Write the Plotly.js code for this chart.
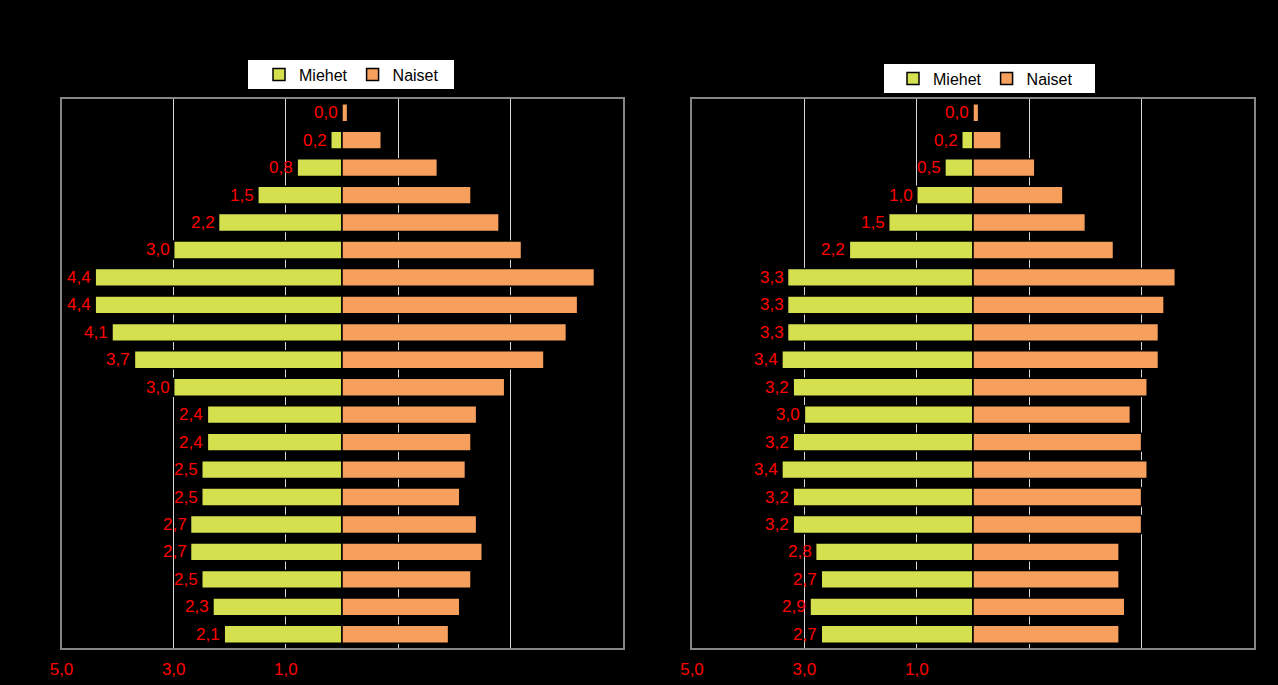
<!DOCTYPE html>
<html>
<head>
<meta charset="utf-8">
<script src="https://cdn.plot.ly/plotly-3.0.1.min.js"></script>
<style>html,body{margin:0;padding:0;background:#000;}#chart{width:1278px;height:685px;}</style>
</head>
<body>
<div id="chart"></div>
<script>
// Age groups, oldest at top
const ageGroups = ['95+','90-94','85-89','80-84','75-79','70-74','65-69','60-64','55-59','50-54',
                   '45-49','40-44','35-39','30-34','25-29','20-24','15-19','10-14','5-9','0-4'];
// Left pyramid (%)
const menLeft   = [0.0,0.2,0.8,1.5,2.2,3.0,4.4,4.4,4.1,3.7,3.0,2.4,2.4,2.5,2.5,2.7,2.7,2.5,2.3,2.1];
const womenLeft = [0.1,0.7,1.7,2.3,2.8,3.2,4.5,4.2,4.0,3.6,2.9,2.4,2.3,2.2,2.1,2.4,2.5,2.3,2.1,1.9];
// Right pyramid (%)
const menRight   = [0.0,0.2,0.5,1.0,1.5,2.2,3.3,3.3,3.3,3.4,3.2,3.0,3.2,3.4,3.2,3.2,2.8,2.7,2.9,2.7];
const womenRight = [0.1,0.5,1.1,1.6,2.0,2.5,3.6,3.4,3.3,3.3,3.1,2.8,3.0,3.1,3.0,3.0,2.6,2.6,2.7,2.6];
// Axis ticks
const tickVals = [-5,-3,-1,1,3,5];
const tickText = ['5,0','3,0','1,0','','',''];
const seriesNames = ['Miehet','Naiset'];
const colMen = '#d5e04f', colWomen = '#f79f5d';
const FONT = 'Liberation Sans, Arial, sans-serif';

const fmt = v => v.toFixed(1).replace('.', ',');
const neg = a => a.map(v => -v);

function pyramid(men, women, xa, ya, leg) {
  return [
    {type:'bar', orientation:'h', name:seriesNames[0], x:neg(men), y:ageGroups, xaxis:xa, yaxis:ya, legend:leg,
     marker:{color:colMen, line:{color:'#000', width:1.5}}, hoverinfo:'skip'},
    {type:'bar', orientation:'h', name:seriesNames[1], x:women, y:ageGroups, xaxis:xa, yaxis:ya, legend:leg,
     marker:{color:colWomen, line:{color:'#000', width:1.5}}, hoverinfo:'skip'}
  ];
}
function labels(men, xa, ya) {
  return men.map((v, i) => ({
    xref:xa, yref:ya, x:-v, y:ageGroups[i], text:fmt(v), showarrow:false,
    xanchor:'right', yanchor:'middle', xshift:-2,
    font:{family:FONT, size:17, color:'#ff0000'}
  }));
}

const data = [].concat(pyramid(menLeft, womenLeft, 'x', 'y', 'legend'),
                       pyramid(menRight, womenRight, 'x2', 'y2', 'legend2'));

const yDom = [37/685, 586/685];
const xCommon = {range:[-5,5], tickvals:tickVals, ticktext:tickText, showgrid:true, gridcolor:'#d8d8d8', gridwidth:1,
  zeroline:false, showline:true, mirror:true, linecolor:'#868686', linewidth:2, ticks:'', fixedrange:true,
  tickfont:{family:FONT, size:17, color:'#ff0000'}, ticklabelstandoff:5};
const yCommon = {range:[19.5,-0.5], showticklabels:false, showgrid:false, zeroline:false, showline:true, mirror:true,
  linecolor:'#868686', linewidth:2, ticks:'', fixedrange:true};
const legCommon = {orientation:'h', bgcolor:'rgba(0,0,0,0)', borderwidth:0,
  font:{family:FONT, size:16, color:'#000'}, xanchor:'left', yanchor:'middle',
  itemwidth:30, tracegroupgap:0, itemclick:false};

const layout = {
  width:1278, height:685, paper_bgcolor:'#000', plot_bgcolor:'#000',
  margin:{l:0, r:0, t:0, b:0},
  barmode:'relative', bargap:0.35,
  showlegend:true,
  xaxis:Object.assign({}, xCommon, {domain:[61.5/1278, 622.5/1278], anchor:'y'}),
  yaxis:Object.assign({}, yCommon, {domain:yDom, anchor:'x'}),
  xaxis2:Object.assign({}, xCommon, {domain:[692/1278, 1254/1278], anchor:'y2'}),
  yaxis2:Object.assign({}, yCommon, {domain:yDom, anchor:'x2'}),
  legend:Object.assign({}, legCommon, {x:259/1278, y:(685-74.5)/685}),
  legend2:Object.assign({}, legCommon, {x:893/1278, y:(685-78.5)/685}),
  shapes:[
    {type:'rect', xref:'paper', yref:'paper', x0:248/1278, x1:454/1278, y0:(685-89)/685, y1:(685-60)/685,
     fillcolor:'#ffffff', line:{width:0}, layer:'below'},
    {type:'rect', xref:'paper', yref:'paper', x0:884/1278, x1:1095/1278, y0:(685-93)/685, y1:(685-64)/685,
     fillcolor:'#ffffff', line:{width:0}, layer:'below'}
  ],
  annotations:[].concat(labels(menLeft, 'x', 'y'), labels(menRight, 'x2', 'y2'))
};

Plotly.newPlot('chart', data, layout, {displayModeBar:false, staticPlot:true});
</script>
</body>
</html>
